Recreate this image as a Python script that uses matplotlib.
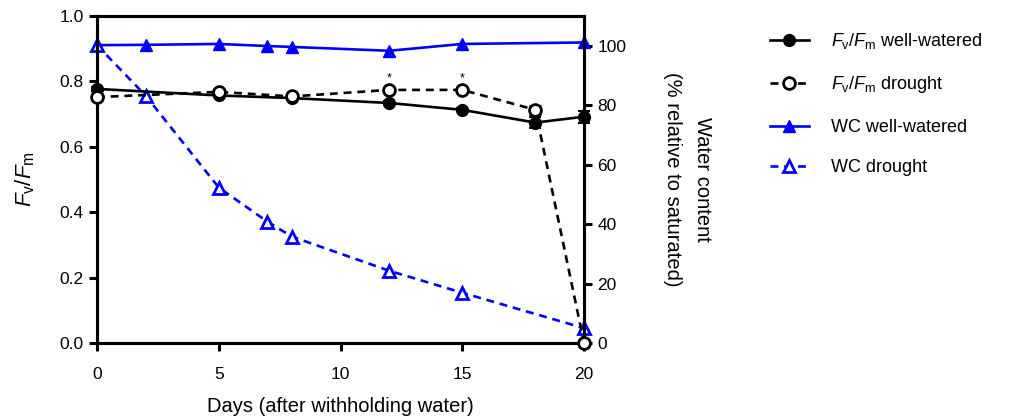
import matplotlib.pyplot as plt
from matplotlib.lines import Line2D

plt.rcParams["font.family"] = ["Liberation Sans", "DejaVu Sans"]
plt.rcParams["mathtext.fontset"] = "custom"
plt.rcParams["mathtext.rm"] = "Liberation Sans"
plt.rcParams["mathtext.it"] = "Liberation Sans:italic"

# Fv/Fm data (left axis)
fv_days = [0, 5, 8, 12, 15, 18, 20]
fv_well = [0.777, 0.757, 0.749, 0.734, 0.713, 0.674, 0.692]
fv_well_err = [0.005, 0.005, 0.006, 0.006, 0.005, 0.018, 0.018]
fv_drought = [0.752, 0.768, 0.754, 0.774, 0.774, 0.713, 0.0]
fv_drought_err = [0.005, 0.006, 0.005, 0.006, 0.006, 0.012, 0.0]
star_days = [12, 15]

# water content data (right axis, %)
wc_well_days = [0, 2, 5, 7, 8, 12, 15, 20]
wc_well = [100.2, 100.3, 100.6, 99.9, 99.6, 98.3, 100.6, 101.1]
wc_drought_days = [0, 2, 5, 7, 8, 12, 15, 20]
wc_drought = [100.2, 83.2, 52.3, 40.8, 35.8, 24.3, 16.9, 5.0]

fig = plt.figure(figsize=(10.25, 4.19), dpi=100)
ax = fig.add_axes([0.0946, 0.1814, 0.4752, 0.7804])
ax2 = ax.twinx()

lw = 1.9
ms = 8.5

ax2.plot(wc_well_days, wc_well, color="#0000ff", lw=lw, marker="^", ms=ms,
         clip_on=False, zorder=3)
ax2.plot(wc_drought_days, wc_drought, color="#0000ff", lw=lw, ls=(0, (3, 2.2)),
         marker="^", ms=ms, mfc="white", mew=2, clip_on=False, zorder=3)

ax2.set_zorder(1)
ax.set_zorder(2)
ax.patch.set_visible(False)

ax.errorbar(fv_days, fv_well, yerr=fv_well_err, color="black", lw=lw, marker="o",
            ms=ms, capsize=4, elinewidth=1.5, capthick=1.5, clip_on=False, zorder=3)
ax.errorbar(fv_days, fv_drought, yerr=fv_drought_err, color="black", lw=lw,
            ls=(0, (3, 2.2)), marker="o", ms=ms, mfc="white", mew=2, capsize=4,
            elinewidth=1.5, capthick=1.5, clip_on=False, zorder=4)
for d in star_days:
    y = fv_drought[fv_days.index(d)]
    ax.text(d, y + 0.018, "*", ha="center", va="bottom", fontsize=9)

ax.set_xlim(0, 20)
ax.set_ylim(0, 1.0)
ax2.set_ylim(0, 110)
ax.set_xticks([0, 5, 10, 15, 20])
ax.set_yticks([0.0, 0.2, 0.4, 0.6, 0.8, 1.0])
ax.set_yticklabels(["0.0", "0.2", "0.4", "0.6", "0.8", "1.0"])
ax2.set_yticks([0, 20, 40, 60, 80, 100])

for a in (ax, ax2):
    for s in a.spines.values():
        s.set_linewidth(2.2)
    a.tick_params(width=2.2, length=6, labelsize=12.5, direction="out")
ax.tick_params(axis="x", pad=11)

ax.set_xlabel("Days (after withholding water)", fontsize=14.5, labelpad=11)
ax.set_ylabel(r"$\mathit{F}_\mathrm{v}/\mathit{F}_\mathrm{m}$", fontsize=16, labelpad=16)
ax2.set_ylabel("Water content\n(% relative to saturated)", fontsize=14.5,
               rotation=270, labelpad=62, linespacing=1.75)

handles = [
    Line2D([], [], color="black", lw=lw, marker="o", ms=ms),
    Line2D([], [], color="black", lw=lw, ls=(0, (3, 2.2)), marker="o", ms=ms,
           mfc="white", mew=2),
    Line2D([], [], color="#0000ff", lw=lw, marker="^", ms=ms),
    Line2D([], [], color="#0000ff", lw=lw, ls=(0, (3, 2.2)), marker="^", ms=ms,
           mfc="white", mew=2),
]
labels = [
    r"$\mathit{F}_\mathrm{v}/\mathit{F}_\mathrm{m}$ well-watered",
    r"$\mathit{F}_\mathrm{v}/\mathit{F}_\mathrm{m}$ drought",
    "WC well-watered",
    "WC drought",
]
fig.legend(handles, labels, loc="upper left", bbox_to_anchor=(0.735, 0.965),
           frameon=False, fontsize=13, handlelength=2.2, labelspacing=1.3,
           handletextpad=1.2)

fig.savefig("out.png", dpi=100)
